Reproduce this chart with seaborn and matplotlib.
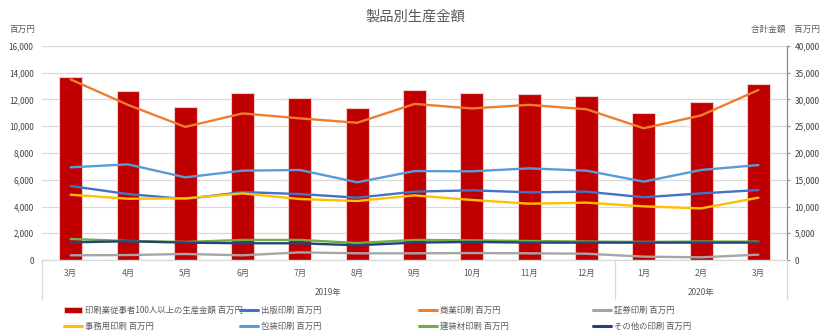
import numpy as np
import pandas as pd
import matplotlib
matplotlib.use("Agg")
import matplotlib.pyplot as plt
import seaborn as sns
from matplotlib.lines import Line2D
from matplotlib.patches import Patch
from matplotlib.ticker import FuncFormatter, MultipleLocator

# ---- data -------------------------------------------------------------
months = ["3月", "4月", "5月", "6月", "7月", "8月", "9月", "10月", "11月", "12月",
          "1月", "2月", "3月"]
year_groups = [("2019年", 0, 9), ("2020年", 10, 12)]

total = [34260, 31600, 28520, 31170, 30240, 28390, 31720, 31170, 31040, 30670,
         27520, 29560, 32870]

publishing = [5530, 4930, 4560, 5080, 4930, 4660, 5110, 5210, 5060, 5110, 4690, 4980, 5230]
commercial = [13500, 11600, 9950, 10960, 10590, 10260, 11670, 11330, 11600, 11270, 9850, 10810, 12710]
securities = [350, 370, 450, 350, 570, 500, 500, 520, 500, 470, 250, 200, 400]
office = [4880, 4580, 4610, 4980, 4560, 4410, 4830, 4490, 4210, 4290, 4010, 3860, 4660]
packaging = [6930, 7150, 6180, 6680, 6730, 5810, 6650, 6630, 6850, 6680, 5860, 6730, 7100]
building = [1570, 1420, 1350, 1500, 1500, 1270, 1500, 1470, 1420, 1380, 1350, 1380, 1370]
other = [1320, 1400, 1300, 1250, 1250, 1100, 1300, 1350, 1300, 1300, 1300, 1300, 1300]

bar_label = "印刷業従事者100人以上の生産金額 百万円"
series = {
    "出版印刷 百万円": (publishing, "#4472C4"),
    "商業印刷 百万円": (commercial, "#ED7D31"),
    "証券印刷 百万円": (securities, "#A5A5A5"),
    "事務用印刷 百万円": (office, "#FFC000"),
    "包装印刷 百万円": (packaging, "#5B9BD5"),
    "建装材印刷 百万円": (building, "#70AD47"),
    "その他の印刷 百万円": (other, "#264478"),
}
bar_color = "#C00000"

# ---- style ------------------------------------------------------------
sns.set_style("white")
plt.rcParams["font.family"] = ["Noto Sans CJK JP", "DejaVu Sans"]
text_col = "#595959"
tick_col = "#404040"
grid_col = "#d9d9d9"

W, H = 830, 336
fig = plt.figure(figsize=(W / 100, H / 100), dpi=100)
L, R, T, B = 42, 787, 46, 260
ax = fig.add_axes([L / W, 1 - B / H, (R - L) / W, (B - T) / H])
ax2 = ax.twinx()

idx = np.arange(len(months))

# bars: total amount on the right-hand scale
sns.barplot(x=idx, y=total, ax=ax, color=bar_color, width=0.4,
            edgecolor="#f3caca", linewidth=0.8, saturation=1)

# lines: product categories on the left-hand scale
long = pd.concat(
    [pd.DataFrame({"idx": idx, "value": vals, "series": name})
     for name, (vals, _) in series.items()],
    ignore_index=True)
palette = {name: c for name, (_, c) in series.items()}
sns.lineplot(data=long, x="idx", y="value", hue="series", hue_order=list(series),
             palette=palette, ax=ax2, linewidth=1.7, legend=False, sort=False)

ax.set_xlim(-0.5, len(months) - 0.5)
ax.set_ylim(0, 40000)
ax2.set_ylim(0, 16000)
ax.yaxis.set_major_locator(MultipleLocator(5000))
ax2.yaxis.set_major_locator(MultipleLocator(2000))
fmt = FuncFormatter(lambda v, p: f"{v:,.0f}")
ax.yaxis.set_major_formatter(fmt)
ax2.yaxis.set_major_formatter(fmt)

ax.yaxis.tick_right()
ax2.yaxis.tick_left()
for a in (ax, ax2):
    a.set_xlabel("")
    a.set_ylabel("")

ax.grid(axis="y", color=grid_col, linewidth=0.9)
ax.grid(axis="x", visible=False)
ax.set_axisbelow(True)
ax2.grid(False)

for s in ax2.spines.values():
    s.set_visible(False)
ax.spines["top"].set_visible(False)
ax.spines["left"].set_visible(False)
ax.spines["bottom"].set_color(grid_col)
ax.spines["bottom"].set_linewidth(0.9)
ax.spines["right"].set_color("#8c8c8c")
ax.spines["right"].set_linewidth(0.9)

ax.set_xticks(idx)
ax.set_xticklabels(months)
ax.tick_params(axis="x", length=0, pad=6.2, labelsize=6, labelcolor=text_col)
ax.tick_params(axis="y", which="major", direction="out", length=2.5, width=0.8,
               color="#8c8c8c", pad=3, labelsize=6, labelcolor=tick_col, right=True)
ax2.tick_params(axis="y", length=0, pad=6, labelsize=5.8, labelcolor=tick_col)
ax2.tick_params(axis="x", bottom=False, labelbottom=False)

# year grouping under the month labels
xt = ax.get_xaxis_transform()
for label, first, last in year_groups:
    ax.text((first + last) / 2, -0.151, label, transform=xt, ha="center", va="center",
            fontsize=6, color=text_col)
bounds = [-0.5] + [last + 0.5 for _, _, last in year_groups]
for bx in bounds:
    ax.add_line(Line2D([bx, bx], [0, -0.182], transform=xt, color=grid_col,
                       linewidth=0.9, clip_on=False))

# titles and unit labels
fig.text(0.5, 1 - 17 / H, "製品別生産金額", ha="center", va="center",
         fontsize=10.3, color=text_col)
fig.text(9 / W, 1 - 29 / H, "百万円", ha="left", va="center", fontsize=6.2, color=text_col)
fig.text(820 / W, 1 - 29 / H, "合計金額　百万円", ha="right", va="center",
         fontsize=6.2, color=text_col)

# legend: four columns, two rows
handles = [Patch(facecolor=bar_color, edgecolor="#f3caca", linewidth=0.6)]
labels = [bar_label]
for name, (_, c) in series.items():
    handles.append(Line2D([0], [0], color=c, linewidth=2.2))
    labels.append(name)
col_x = [64, 240, 419, 593]
for ci, cx in enumerate(col_x):
    hs = [handles[ci], handles[ci + 4]]
    ls = [labels[ci], labels[ci + 4]]
    fig.legend(hs, ls, loc="upper left", bbox_to_anchor=(cx / W, 1 - 305.5 / H),
               frameon=False, fontsize=6, labelcolor=text_col, handlelength=2.2,
               handletextpad=0.35, labelspacing=0.9, borderpad=0, borderaxespad=0)

fig.savefig("out.png", dpi=100)
